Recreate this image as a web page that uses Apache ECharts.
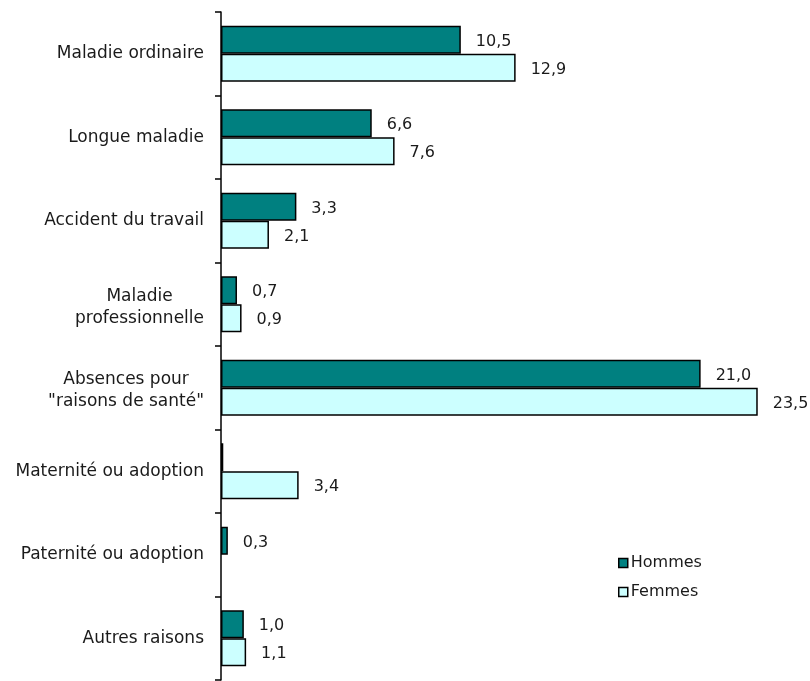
<!DOCTYPE html>
<html>
<head>
<meta charset="utf-8">
<script src="https://cdn.jsdelivr.net/npm/echarts@6/dist/echarts.min.js"></script>
<style>
  html, body { margin: 0; padding: 0; background: #ffffff; }
  #chart { width: 810px; height: 681px; }
</style>
</head>
<body>
<div id="chart"></div>
<script>
// Reasons for absence, in days per agent, by sex
const categories = [
  'Maladie ordinaire',
  'Longue maladie',
  'Accident du travail',
  'Maladie\nprofessionnelle',
  'Absences pour\n"raisons de santé"',
  'Maternité ou adoption',
  'Paternité ou adoption',
  'Autres raisons'
];
const seriesNames = ['Hommes', 'Femmes'];
const hommes = [10.5, 6.6, 3.3, 0.7, 21.0, 0.1, 0.3, 1.0];
const femmes = [12.9, 7.6, 2.1, 0.9, 23.5, 3.4, null, 1.1];
// Categories whose men's bar carries no value label
const hommesUnlabelled = ['Maternité ou adoption'];

const FONT = '"DejaVu Sans", "Liberation Sans", Arial, sans-serif';
const TEXT = '#1a1a1a';
const fmt = (p) => p.value.toFixed(1).replace('.', ',');

const hommesData = hommes.map((v, i) =>
  hommesUnlabelled.includes(categories[i]) ? { value: v, label: { show: false } } : v
);

const barLabel = {
  show: true,
  position: 'right',
  distance: 15,
  offset: [0, 2],
  formatter: fmt,
  fontFamily: FONT,
  fontSize: 16,
  color: TEXT
};

// Category names: each line centred on the others; two-line names get a
// small spacer line on top so the block sits a little lower in its band
const catFormatter = (v) => {
  const lines = v.split('\n').map((l) => '{c|' + l + '}');
  return (lines.length > 1 ? '{s| }\n' : '') + lines.join('\n');
};

const chart = echarts.init(document.getElementById('chart'), null, { renderer: 'canvas' });
chart.setOption({
  animation: false,
  backgroundColor: '#ffffff',
  grid: { left: 221, right: 18, top: 12, bottom: 1, containLabel: false },
  legend: {
    orient: 'vertical',
    left: 613,
    top: 550,
    itemWidth: 9,
    itemHeight: 9,
    itemGap: 13,
    icon: 'rect',
    textStyle: { fontFamily: FONT, fontSize: 16, color: TEXT, padding: [0, 0, 0, -2] },
    data: [
      { name: 'Hommes', itemStyle: { color: '#008080', borderColor: '#000', borderWidth: 1.5 } },
      { name: 'Femmes', itemStyle: { color: '#ccffff', borderColor: '#000', borderWidth: 1.5 } }
    ]
  },
  xAxis: {
    type: 'value',
    min: 0,
    max: 25,
    show: false
  },
  yAxis: {
    type: 'category',
    data: categories,
    inverse: true,
    axisLine: { show: true, lineStyle: { color: '#000', width: 1.5 } },
    axisTick: { show: true, length: 6, inside: false, lineStyle: { color: '#000', width: 1.5 } },
    axisLabel: {
      margin: 17,
      formatter: catFormatter,
      rich: {
        c: { align: 'center', fontFamily: FONT, fontSize: 17, color: TEXT, lineHeight: 22 },
        s: { fontSize: 4, lineHeight: 6 }
      }
    },
    splitLine: { show: false }
  },
  series: [
    {
      name: seriesNames[0],
      type: 'bar',
      data: hommesData,
      barWidth: 28,
      barGap: '0%',
      itemStyle: { color: '#008080', borderColor: '#000', borderWidth: 1.5 },
      label: barLabel
    },
    {
      name: seriesNames[1],
      type: 'bar',
      data: femmes,
      barWidth: 28,
      barGap: '0%',
      itemStyle: { color: '#ccffff', borderColor: '#000', borderWidth: 1.5 },
      label: barLabel
    }
  ]
});
</script>
</body>
</html>
